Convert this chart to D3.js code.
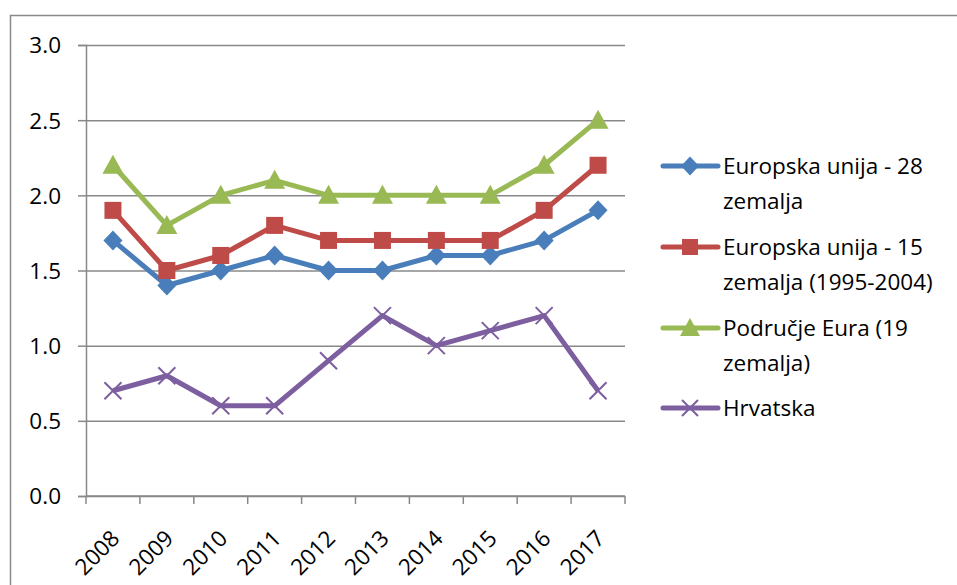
<!DOCTYPE html>
<html>
<head>
<meta charset="utf-8">
<script src="https://cdn.jsdelivr.net/npm/d3@7"></script>
<style>
  body { margin: 0; background: #fff; }
  text { font-family: "Open Sans", sans-serif; fill: #000; }
</style>
</head>
<body>
<svg width="957" height="585"></svg>
<script>
var years = ["2008", "2009", "2010", "2011", "2012", "2013", "2014", "2015", "2016", "2017"];
var eu28 = [1.7, 1.4, 1.5, 1.6, 1.5, 1.5, 1.6, 1.6, 1.7, 1.9];
var eu15 = [1.9, 1.5, 1.6, 1.8, 1.7, 1.7, 1.7, 1.7, 1.9, 2.2];
var euro19 = [2.2, 1.8, 2.0, 2.1, 2.0, 2.0, 2.0, 2.0, 2.2, 2.5];
var hrvatska = [0.7, 0.8, 0.6, 0.6, 0.9, 1.2, 1.0, 1.1, 1.2, 0.7];
var yTicks = [0, 0.5, 1, 1.5, 2, 2.5, 3];

var series = [
  { name: ["Europska unija - 28", "zemalja"], values: eu28, color: "#4a7ebb", marker: "diamond" },
  { name: ["Europska unija - 15", "zemalja (1995-2004)"], values: eu15, color: "#be4b48", marker: "square" },
  { name: ["Područje Eura (19", "zemalja)"], values: euro19, color: "#98b954", marker: "triangle" },
  { name: ["Hrvatska"], values: hrvatska, color: "#7d5fa0", marker: "cross" }
];

var svg = d3.select("svg");
var plotLeft = 86, plotRight = 625, plotTop = 45, plotBottom = 496;

// outer chart border (runs off the picture right and bottom)
svg.append("rect")
  .attr("x", 10.5).attr("y", 15.5)
  .attr("width", 1000).attr("height", 1000)
  .attr("fill", "none")
  .attr("stroke", "#898989")
  .attr("stroke-width", 1.5);

var x = d3.scaleBand().domain(years).range([plotLeft, plotRight]);
var y = d3.scaleLinear().domain([0, 3]).range([plotBottom, plotTop]);
var cx = d => x(d) + x.bandwidth() / 2;

// gridlines
svg.append("g")
  .attr("transform", `translate(${plotLeft},0)`)
  .call(d3.axisLeft(y).tickValues(yTicks).tickSize(-(plotRight - plotLeft)).tickFormat(""))
  .call(g => g.select(".domain").remove())
  .call(g => g.selectAll("line").attr("stroke", "#888").attr("stroke-width", 1.5));

// y axis
svg.append("g")
  .attr("transform", `translate(${plotLeft},0)`)
  .call(d3.axisLeft(y).tickValues(yTicks).tickSize(8).tickPadding(17).tickFormat(d3.format(".1f")))
  .call(g => g.select(".domain").attr("stroke", "#888").attr("stroke-width", 1.5))
  .call(g => g.selectAll("line").attr("stroke", "#888").attr("stroke-width", 1.5))
  .call(g => g.selectAll("text").style("font-size", "22.5px").attr("dy", "0.35em"));

// x axis
var xg = svg.append("g").attr("transform", `translate(0,${plotBottom})`);
xg.append("line")
  .attr("x1", plotLeft).attr("x2", plotRight)
  .attr("stroke", "#888").attr("stroke-width", 1.5);
xg.selectAll(".tick")
  .data(years.map(d => x(d)).concat([x.range()[1]]))
  .enter().append("line")
  .attr("x1", d => d).attr("x2", d => d)
  .attr("y1", 0).attr("y2", 8)
  .attr("stroke", "#888").attr("stroke-width", 1.5);
xg.selectAll(".lbl")
  .data(years)
  .enter().append("text")
  .attr("transform", d => `translate(${cx(d) + 8},${44}) rotate(-45)`)
  .attr("text-anchor", "end")
  .style("font-size", "22.5px")
  .text(d => d);

// markers
function drawMarker(g, type, color, size) {
  var s = size;
  if (type === "diamond") {
    g.append("path").attr("d", `M0,${-s / 2 - 1.5}L${s / 2 + 1},0L0,${s / 2 + 1.5}L${-s / 2 - 1},0Z`).attr("fill", color);
  } else if (type === "square") {
    g.append("rect").attr("x", -s / 2).attr("y", -s / 2).attr("width", s).attr("height", s).attr("fill", color);
  } else if (type === "triangle") {
    g.append("path").attr("d", `M0,${-s / 2 - 2}L${s / 2 + 2},${s / 2}L${-s / 2 - 2},${s / 2}Z`).attr("fill", color);
  } else {
    g.append("path").attr("d", `M${-s / 2},${-s / 2}L${s / 2},${s / 2}M${s / 2},${-s / 2}L${-s / 2},${s / 2}`)
      .attr("stroke", color).attr("stroke-width", 2);
  }
}

var line = d3.line().x((d, i) => cx(years[i])).y(d => y(d));

series.forEach(s => {
  svg.append("path")
    .datum(s.values)
    .attr("d", line)
    .attr("fill", "none")
    .attr("stroke", s.color)
    .attr("stroke-width", 5)
    .attr("stroke-linejoin", "round");
  s.values.forEach((v, i) => {
    var g = svg.append("g").attr("transform", `translate(${cx(years[i])},${y(v)})`);
    drawMarker(g, s.marker, s.color, 17);
  });
});

// legend
var legendY = [166, 247, 328, 408];
series.forEach((s, i) => {
  var g = svg.append("g").attr("transform", `translate(663,${legendY[i]})`);
  g.append("line").attr("x1", 0).attr("x2", 55)
    .attr("stroke", s.color).attr("stroke-width", 5).attr("stroke-linecap", "round");
  var m = g.append("g").attr("transform", "translate(27,0)");
  drawMarker(m, s.marker, s.color, 16);
  s.name.forEach((t, j) => {
    g.append("text")
      .attr("x", 60).attr("y", j * 35)
      .attr("dy", "0.35em")
      .style("font-size", "22.5px")
      .text(t);
  });
});
</script>
</body>
</html>
